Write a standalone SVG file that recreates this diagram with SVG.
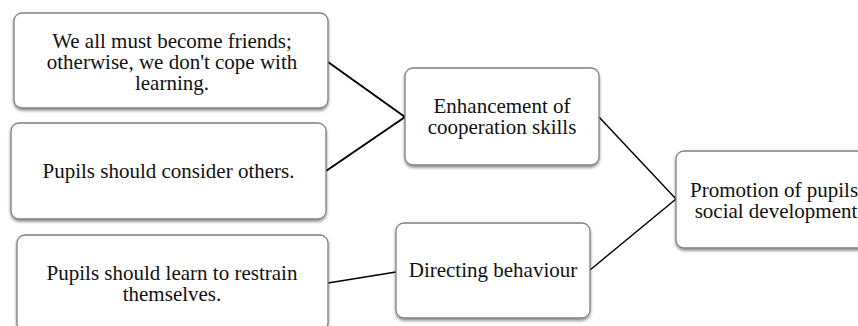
<svg xmlns="http://www.w3.org/2000/svg" width="858" height="326" viewBox="0 0 858 326">
<defs>
<filter id="sh" x="-10%" y="-10%" width="120%" height="130%">
<feDropShadow dx="0" dy="2" stdDeviation="1.6" flood-color="#000" flood-opacity="0.45"/>
</filter>
</defs>
<style>
.box{fill:#fff;stroke:#808080;stroke-width:1.3;filter:url(#sh)}
.t{font-family:"Liberation Serif","Times New Roman",serif;font-size:21px;fill:#111;text-anchor:middle}
.c{stroke:#000;fill:none}
</style>
<rect width="858" height="326" fill="#fff"/>
<g id="connectors">
<line class="c" x1="328" y1="62" x2="405" y2="117" stroke-width="2"/>
<line class="c" x1="326" y1="171" x2="405" y2="117" stroke-width="2"/>
<line class="c" x1="599" y1="117" x2="676" y2="199" stroke-width="1.4"/>
<line class="c" x1="590" y1="270" x2="676" y2="199" stroke-width="1.4"/>
<line class="c" x1="328" y1="283" x2="396" y2="272" stroke-width="1.4"/>
</g>
<g id="n1">
<rect class="box" x="14" y="13" width="314" height="95" rx="8"/>
<text class="t" x="172" y="47.5">We all must become friends;</text>
<text class="t" x="172" y="68.5">otherwise, we don't cope with</text>
<text class="t" x="172" y="89.5">learning.</text>
</g>
<g id="n2">
<rect class="box" x="11" y="123" width="315" height="96" rx="8"/>
<text class="t" x="168.5" y="178">Pupils should consider others.</text>
</g>
<g id="n3">
<rect class="box" x="17" y="235" width="311" height="96" rx="8"/>
<text class="t" x="172" y="280">Pupils should learn to restrain</text>
<text class="t" x="172" y="300.5">themselves.</text>
</g>
<g id="n4">
<rect class="box" x="405" y="68" width="194" height="97" rx="8"/>
<text class="t" x="502" y="113">Enhancement of</text>
<text class="t" x="502" y="134">cooperation skills</text>
</g>
<g id="n5">
<rect class="box" x="396" y="223" width="194" height="95" rx="8"/>
<text class="t" x="493" y="277">Directing behaviour</text>
</g>
<g id="n6">
<rect class="box" x="676" y="151" width="205" height="97" rx="8"/>
<text class="t" x="776" y="197">Promotion of pupils'</text>
<text class="t" x="776" y="218">social development</text>
</g>
</svg>
